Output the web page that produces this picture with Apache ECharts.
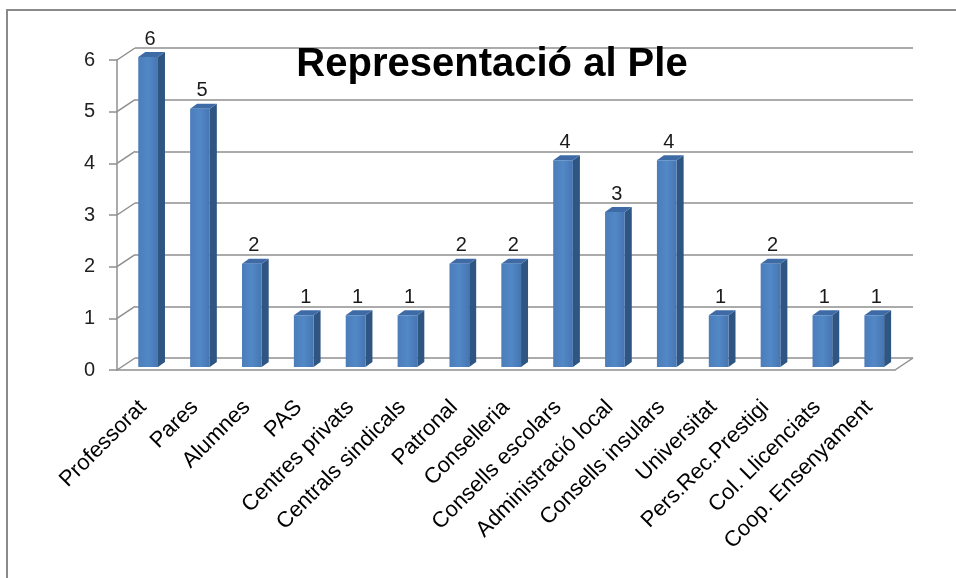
<!DOCTYPE html>
<html lang="ca">
<head>
    <meta charset="UTF-8">
    <title>Representació al Ple</title>
    <script src="https://cdn.jsdelivr.net/npm/echarts@6/dist/echarts.min.js"></script>
    <style>
        body { margin: 0; background: #fff; }
    </style>
</head>
<body>
    <div id="main" style="width: 956px;height:578px;"></div>
    <script type="text/javascript">
        // data
        const categories = ['Professorat', 'Pares', 'Alumnes', 'PAS', 'Centres privats', 'Centrals sindicals',
            'Patronal', 'Conselleria', 'Consells escolars', 'Administració local', 'Consells insulars',
            'Universitat', 'Pers.Rec.Prestigi', 'Col. Llicenciats', 'Coop. Ensenyament'];
        const seats = [6, 5, 2, 1, 1, 1, 2, 2, 4, 3, 4, 1, 2, 1, 1];
        const yTicks = [0, 1, 2, 3, 4, 5, 6];

        // 3D look: back wall offset and bar depth
        const wallDx = 18, wallDy = -12;
        const gridColor = '#8f8f8f';
        const font = 'Liberation Sans';

        let myChart = echarts.init(document.getElementById('main'));

        // draws one 3D bar (front, side and top faces)
        function renderBar(params, api) {
            const idx = api.value(0);
            const v = api.value(1);
            const top = api.coord([idx, v]);
            const base = api.coord([idx, 0]);
            const bandW = api.size([1, 0])[0];
            const w = bandW * 0.38;
            const x0 = top[0] - bandW * 0.09;
            const yTop = top[1] - 3, yBot = base[1] - 3;
            const dx = 7, dy = -5;
            return {
                type: 'group',
                children: [
                    {
                        type: 'polygon',
                        shape: { points: [[x0 + w, yTop], [x0 + w + dx, yTop + dy], [x0 + w + dx, yBot + dy], [x0 + w, yBot]] },
                        style: { fill: '#2f5583' }
                    },
                    {
                        type: 'polygon',
                        shape: { points: [[x0, yTop], [x0 + dx, yTop + dy], [x0 + w + dx, yTop + dy], [x0 + w, yTop]] },
                        style: { fill: '#3e6ba6' }
                    },
                    {
                        type: 'rect',
                        shape: { x: x0, y: yTop, width: w, height: yBot - yTop },
                        style: {
                            fill: new echarts.graphic.LinearGradient(0, 0, 1, 0, [
                                { offset: 0, color: '#4b7dba' },
                                { offset: 0.5, color: '#5288c6' },
                                { offset: 1, color: '#4676b2' }
                            ])
                        }
                    },
                    {
                        type: 'text',
                        style: {
                            text: String(v), x: x0 + w / 2 + 2, y: yTop - 8,
                            align: 'center', verticalAlign: 'bottom',
                            fill: '#1a1a1a', font: '20px "' + font + '"'
                        }
                    }
                ]
            };
        }

        // diagonal connectors from front axis to back wall, plus floor corner
        function renderWallEdges(params, api) {
            const v = api.value(0);
            const cs = params.coordSys;
            const y = api.coord([0, v])[1];
            const children = [{
                type: 'line',
                shape: { x1: cs.x, y1: y, x2: cs.x + wallDx, y2: y + wallDy },
                style: { stroke: gridColor, lineWidth: 1.5 }
            }];
            if (v === 0) {
                children.push({
                    type: 'line',
                    shape: { x1: cs.x + cs.width, y1: y, x2: cs.x + cs.width + wallDx, y2: y + wallDy },
                    style: { stroke: gridColor, lineWidth: 1.5 }
                });
            }
            return { type: 'group', children: children };
        }

        let options = {
            backgroundColor: '#fff',
            animation: false,
            title: {
                text: 'Representació al Ple',
                left: 487, top: 40, textAlign: 'center',
                textStyle: { fontFamily: font, fontSize: 40, fontWeight: 'bold', color: '#000' }
            },
            graphic: [{
                type: 'polyline',
                shape: { points: [[7, 578], [7, 10], [956, 10]] },
                style: { stroke: '#8a8a8a', lineWidth: 2, fill: null }
            }],
            grid: [
                { left: 117, right: 61, top: 60, bottom: 208 },                 // front
                { left: 117 + wallDx, right: 61 - wallDx, top: 60 + wallDy, bottom: 208 - wallDy } // back wall
            ],
            xAxis: [
                {
                    type: 'category', data: categories, gridIndex: 0,
                    axisLine: { lineStyle: { color: gridColor, width: 1.5 } },
                    axisTick: { length: 7, lineStyle: { color: gridColor, width: 1.5 } },
                    axisLabel: {
                        interval: 0, rotate: 45, margin: 34,
                        fontFamily: font, fontSize: 22, color: '#000'
                    }
                },
                { type: 'category', data: categories, gridIndex: 1, show: false }
            ],
            yAxis: [
                {
                    type: 'value', gridIndex: 0, min: 0, max: 6, interval: 1,
                    axisLine: { show: true, lineStyle: { color: gridColor, width: 1.5 } },
                    axisTick: { show: true, length: 8, lineStyle: { color: gridColor, width: 1.5 } },
                    axisLabel: { margin: 22, fontFamily: font, fontSize: 20, color: '#222' },
                    splitLine: { show: false }
                },
                {
                    type: 'value', gridIndex: 1, min: 0, max: 6, interval: 1,
                    axisLine: { show: false }, axisTick: { show: false }, axisLabel: { show: false },
                    splitLine: { show: true, lineStyle: { color: gridColor, width: 1.5 } }
                }
            ],
            series: [
                {
                    type: 'custom', xAxisIndex: 0, yAxisIndex: 0,
                    data: yTicks.map(t => [t]),
                    renderItem: renderWallEdges,
                    silent: true, z: 1
                },
                {
                    type: 'custom', xAxisIndex: 0, yAxisIndex: 0,
                    data: seats.map((s, i) => [i, s]),
                    renderItem: renderBar,
                    encode: { x: 0, y: 1 },
                    z: 5
                }
            ]
        };

        myChart.setOption(options);
    </script>
</body>
</html>
